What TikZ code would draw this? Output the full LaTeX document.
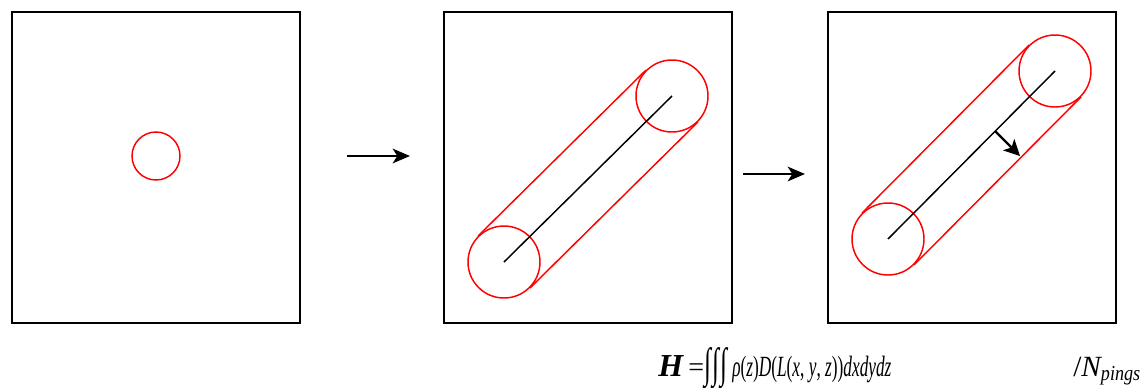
\documentclass[tikz,border=0pt]{standalone}
\usepackage{fontspec}
\setmainfont{Liberation Serif}
\usetikzlibrary{arrows.meta}
\newcommand{\tallint}{\makebox[6pt][l]{\raisebox{-1pt}{\scalebox{0.9}[1.5]{∫}}}}
\begin{document}
\begin{tikzpicture}[x=0.75pt,y=-0.75pt,
  panel/.style={draw=black,line width=1.5pt},
  ring/.style={circle,draw=red,line width=1.1pt,inner sep=0pt,minimum size=#1},
  ring/.default=54pt,
  tube/.style={draw=red,line width=1.1pt},
  axis/.style={draw=black,line width=1.1pt},
  flow/.style={draw=black,line width=1.6pt,-{Stealth[length=13pt,width=11pt,inset=3.5pt]}},
  push/.style={draw=black,line width=1.6pt,-{Stealth[length=12pt,width=12pt,inset=3pt]}},
  formula/.style={inner sep=0pt,anchor=base west}]
\useasboundingbox (0,0) rectangle (1147,387);
% panels
\draw[panel] (12,12) rectangle (300,323);
\draw[panel] (444,12) rectangle (732,323);
\draw[panel] (828,12) rectangle (1116,323);
% panel 1
\node[ring=36pt] (p1) at (156,156) {};
% panel 2
\node[ring] (b2) at (504,262) {};
\node[ring] (t2) at (672,96) {};
\coordinate (b2c) at (504,262);
\coordinate (t2c) at (672,96);
\draw[tube] (b2.135) -- (t2.135);
\draw[tube] (b2.-45) -- (t2.-45);
\draw[axis] (b2c) -- (t2c);
% panel 3
\node[ring] (b3) at (888,239) {};
\node[ring] (t3) at (1055,71) {};
\coordinate (b3c) at (888,239);
\coordinate (t3c) at (1055,71);
\draw[tube] (b3.135) -- (t3.135);
\draw[tube] (b3.-45) -- (t3.-45);
\draw[axis] (b3c) -- (t3c);
\coordinate (m3) at (995,131);
\coordinate (m3e) at (1020,156);
\draw[push] (m3) -- (m3e);
% arrows between panels
\coordinate (a1s) at (347,156);
\coordinate (a1e) at (410,156);
\draw[flow] (a1s) -- (a1e);
\coordinate (a2s) at (743,174);
\coordinate (a2e) at (805,174);
\draw[flow] (a2s) -- (a2e);
% formula
\node[formula] (eqH) at (658,376) {\fontsize{24pt}{26pt}\selectfont\bfseries\itshape H};
\node[formula] (eqeq) at (688,376) {\fontsize{21pt}{24pt}\selectfont =};
\node[formula] (eqint) at (704,376) {\fontsize{21pt}{24pt}\selectfont\tallint\tallint\tallint};
\node[formula] (eq) at (732,376) {\scalebox{0.59}[1]{\fontsize{22pt}{24pt}\selectfont\itshape ρ\upshape(\itshape z\upshape)\itshape D\upshape(\itshape L\upshape(\itshape x\upshape, \itshape y\upshape, \itshape z\upshape))\itshape dxdydz}};
\node[formula] (np) at (1073,376) {\fontsize{22pt}{25pt}\selectfont\upshape/\itshape N\raisebox{-3pt}{\scalebox{0.85}[1]{\fontsize{16pt}{18pt}\selectfont pings}}};
\end{tikzpicture}
\end{document}
